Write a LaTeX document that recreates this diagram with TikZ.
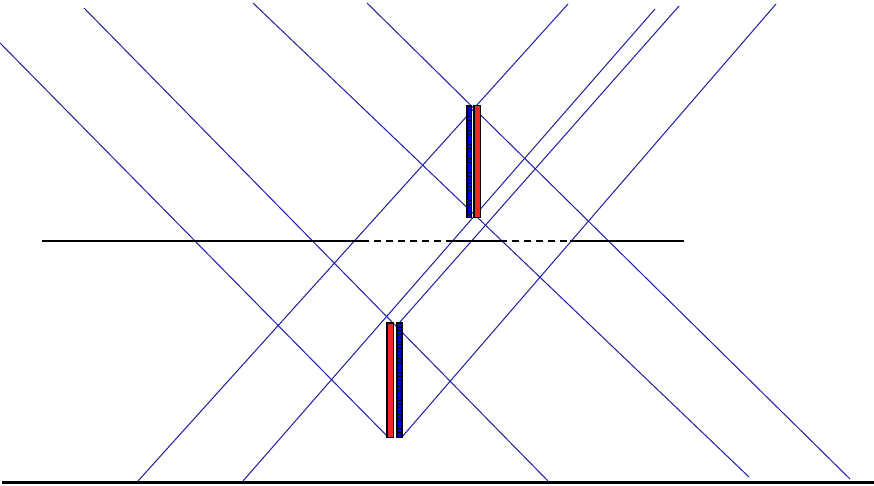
\documentclass[tikz,border=0pt]{standalone}
\definecolor{ray}{RGB}{30,30,165}
\definecolor{plred}{RGB}{238,40,40}
\definecolor{plblue}{RGB}{0,0,235}
\begin{document}
\begin{tikzpicture}[x=1pt,y=-1pt,
  raystyle/.style={draw=ray,line width=1pt},
  axisline/.style={draw=black,line width=1.6pt},
  baseline/.style={draw=black,line width=2.6pt},
  dashline/.style={draw=black,line width=1.6pt,dash pattern=on 7pt off 5pt},
  redbar/.style={draw=black,line width=1.7pt,fill=plred},
  bluebar/.style={draw=black,line width=1.7pt,fill=black},
  bluedots/.style={draw=plblue,line width=3pt,dash pattern=on 2.6pt off 0.9pt}]
\useasboundingbox (0,0) rectangle (874,485);
\fill[white] (0,0) rectangle (874,485);
% ray end points
\coordinate (A1) at (0,43);    \coordinate (A2) at (388,437);
\coordinate (B1) at (84,8);    \coordinate (B2) at (548,481);
\coordinate (C1) at (253,3);   \coordinate (C2) at (749,477);
\coordinate (D1) at (367,3);   \coordinate (D2) at (850,479);
\coordinate (E1) at (138,481); \coordinate (E2) at (568,4);
\coordinate (F1) at (243,481); \coordinate (F2) at (655,9);
\coordinate (G1) at (400,322); \coordinate (G2) at (679,6);
\coordinate (H1) at (402,437); \coordinate (H2) at (776,4);
\foreach \p in {A,B,C,D,E,F,G,H}{\draw[raystyle] (\p1) -- (\p2);}
% horizontal line
\coordinate (h0) at (42,241);  \coordinate (h1) at (362,241);
\coordinate (h2) at (448,241); \coordinate (h3) at (500,241);
\coordinate (h4) at (570,241); \coordinate (h5) at (684,241);
\draw[axisline] (h0) -- (h1);
\draw[dashline] (h1) -- (h2);
\draw[axisline] (h2) -- (h3);
\draw[dashline] (h3) -- (h4);
\draw[axisline] (h4) -- (h5);
% base line
\coordinate (b0) at (2,482.5); \coordinate (b1) at (874,482.5);
\draw[baseline] (b0) -- (b1);
% upper plate: blue left, red right
\draw[bluebar] (466.5,105.5) rectangle (471.5,217.5);
\draw[bluedots] (469,106.5) -- (469,216.5);
\draw[redbar] (474,105.5) rectangle (480.5,217.5);
% lower plate: red left, blue right
\draw[redbar] (387,323) rectangle (393.5,437.5);
\draw[bluebar] (397,323) rectangle (402.5,437.5);
\draw[bluedots] (399.75,324) -- (399.75,436.5);
\end{tikzpicture}
\end{document}
